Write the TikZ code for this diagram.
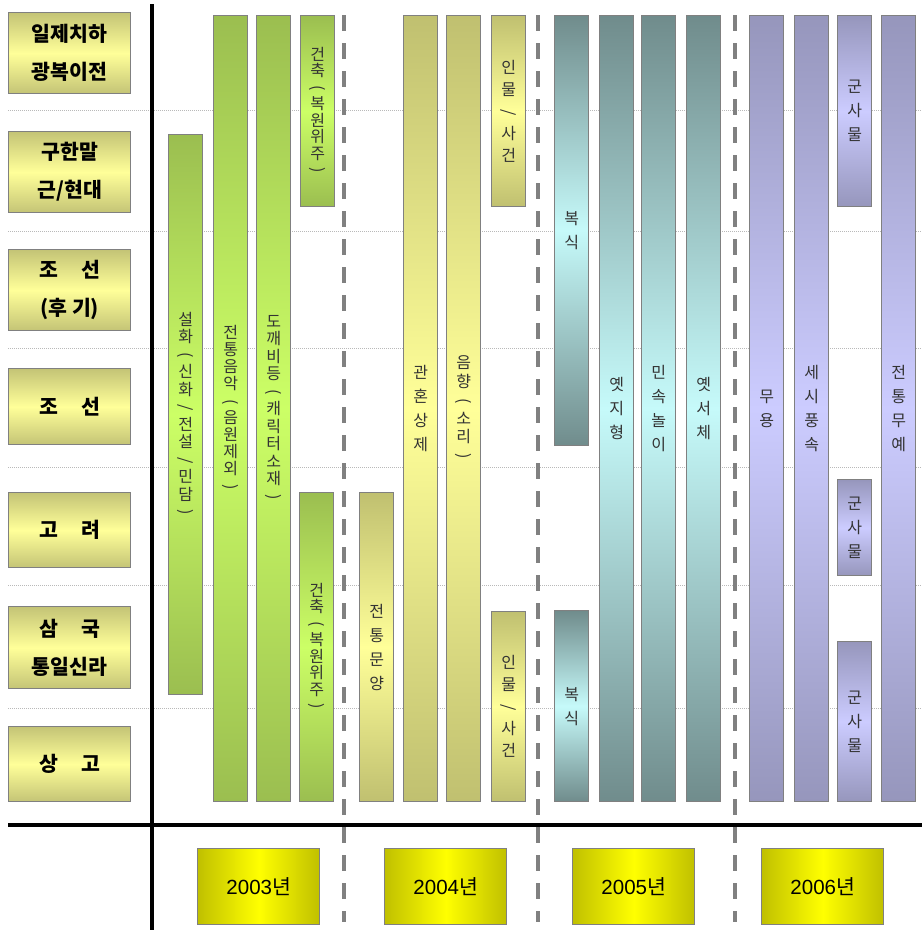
\documentclass[tikz,border=0pt]{standalone}
\usepackage{fontspec}
\newfontfamily\kr{Noto Sans CJK KR}
\newfontfamily\ar{Liberation Sans}
\definecolor{lbldark}{RGB}{196,196,118}
\definecolor{lbllight}{RGB}{255,255,153}
\definecolor{gdark}{RGB}{155,190,80}
\definecolor{glight}{RGB}{204,255,102}
\definecolor{odark}{RGB}{192,192,112}
\definecolor{olight}{RGB}{255,255,153}
\definecolor{tdark}{RGB}{112,140,140}
\definecolor{tlight}{RGB}{198,250,250}
\definecolor{pdark}{RGB}{150,150,188}
\definecolor{plight}{RGB}{204,204,255}
\definecolor{ydark}{RGB}{192,192,0}
\definecolor{edge}{RGB}{128,128,128}
\newcommand\vp[1]{\rotatebox[origin=c]{-90}{#1}}
\tikzset{
  box/.style={draw=edge, line width=1.4pt, anchor=north west, inner sep=0pt, align=center},
  lbl/.style={box, top color=lbldark, bottom color=lbldark, middle color=lbllight,
    minimum width=122pt, font=\kr\bfseries\fontsize{20.5}{38}\selectfont},
  yr/.style={box, left color=ydark, right color=ydark, middle color=yellow,
    minimum width=122pt, minimum height=76pt, font=\fontsize{20.5}{24}\selectfont},
  bar/.style={box, minimum width=34pt, font=\kr\fontsize{16}{24}\selectfont, text=black!80},
  gbar/.style={bar, top color=gdark, bottom color=gdark, middle color=glight},
  obar/.style={bar, top color=odark, bottom color=odark, middle color=olight},
  tbar/.style={bar, top color=tdark, bottom color=tdark, middle color=tlight},
  pbar/.style={bar, top color=pdark, bottom color=pdark, middle color=plight},
  dotln/.style={draw=gray!55, line width=0.8pt, dash pattern=on 1pt off 1pt},
  dashln/.style={draw=edge, line width=4.2pt, dash pattern=on 16pt off 12pt},
  axisln/.style={draw=black, line width=4pt},
}
\begin{document}
\begin{tikzpicture}[x=1pt,y=-1pt]
\useasboundingbox (0,0) rectangle (922,930);
% dotted row separators
\foreach \yy [count=\i] in {110,231,348,467,585,708}{
  \coordinate (s\i l) at (8,\yy);
  \coordinate (s\i r) at (922,\yy);
  \draw[dotln] (s\i l) -- (s\i r);
}
% axes
\coordinate (vt) at (152,4);
\coordinate (vb) at (152,930);
\coordinate (hl) at (8,825);
\coordinate (hr) at (922,825);
\draw[axisln] (vt) -- (vb);
\draw[axisln] (hl) -- (hr);
% dashed separators
\foreach \xx [count=\i] in {344,538,735}{
  \coordinate (d\i t) at (\xx,15);
  \coordinate (d\i b) at (\xx,922);
  \draw[dashln] (d\i t) -- (d\i b);
}
% row labels
\node[lbl, minimum height=81pt] (L1) at (8,12) {일제치하\\광복이전};
\node[lbl, minimum height=81pt] (L2) at (8,131) {구한말\\근/현대};
\node[lbl, minimum height=81pt] (L3) at (8,249) {조\hspace{23pt}선\\(후 기)};
\node[lbl, minimum height=76pt] (L4) at (8,368) {조\hspace{23pt}선};
\node[lbl, minimum height=75pt] (L5) at (8,492) {고\hspace{23pt}려};
\node[lbl, minimum height=82pt] (L6) at (8,606) {삼\hspace{23pt}국\\통일신라};
\node[lbl, minimum height=75pt] (L7) at (8,726) {상\hspace{23pt}고};
% 2003
\node[gbar, minimum height=560pt, font=\kr\fontsize{16}{17.5}\selectfont] (g1) at (168,134)
  {설\\화\\\vp(\\신\\화\\\vp/\\전\\설\\\vp/\\민\\담\\\vp)};
\node[gbar, minimum height=786pt, font=\kr\fontsize{16}{17}\selectfont] (g2) at (213,15)
  {전\\통\\음\\악\\\vp(\\음\\원\\제\\외\\\vp)};
\node[gbar, minimum height=786pt, font=\kr\fontsize{16}{17.5}\selectfont] (g3) at (256,15)
  {도\\깨\\비\\등\\\vp(\\캐\\릭\\터\\소\\재\\\vp)};
\node[gbar, minimum height=191pt, font=\kr\fontsize{16}{16.5}\selectfont] (g4) at (300,15)
  {건\\축\\\vp(\\복\\원\\위\\주\\\vp)};
\node[gbar, minimum height=309pt, font=\kr\fontsize{16}{16.5}\selectfont] (g5) at (299,492)
  {건\\축\\\vp(\\복\\원\\위\\주\\\vp)};
% 2004
\node[obar, minimum height=309pt] (o1) at (359,492) {전\\통\\문\\양};
\node[obar, minimum height=786pt] (o2) at (403,15) {관\\혼\\상\\제};
\node[obar, minimum height=786pt, font=\kr\fontsize{16}{18.5}\selectfont] (o3) at (446,15)
  {음\\향\\\vp(\\소\\리\\\vp)};
\node[obar, minimum height=191pt, font=\kr\fontsize{16}{22}\selectfont] (o4) at (491,15)
  {인\\물\\\vp/\\사\\건};
\node[obar, minimum height=190pt, font=\kr\fontsize{16}{22}\selectfont] (o5) at (491,611)
  {인\\물\\\vp/\\사\\건};
% 2005
\node[tbar, minimum height=430pt] (t1) at (554,15) {복\\식};
\node[tbar, minimum height=786pt] (t2) at (599,15) {옛\\지\\형};
\node[tbar, minimum height=786pt] (t3) at (641,15) {민\\속\\놀\\이};
\node[tbar, minimum height=786pt] (t4) at (686,15) {옛\\서\\체};
\node[tbar, minimum height=191pt] (t5) at (554,610) {복\\식};
% 2006
\node[pbar, minimum height=786pt] (p1) at (749,15) {무\\용};
\node[pbar, minimum height=786pt] (p2) at (794,15) {세\\시\\풍\\속};
\node[pbar, minimum height=191pt] (p3) at (837,15) {군\\사\\물};
\node[pbar, minimum height=786pt] (p4) at (881,15) {전\\통\\무\\예};
\node[pbar, minimum height=96pt] (p5) at (837,479) {군\\사\\물};
\node[pbar, minimum height=160pt] (p6) at (837,641) {군\\사\\물};
% years
\node[yr] (y3) at (197,848) {\ar 2003\kr 년};
\node[yr] (y4) at (384,848) {\ar 2004\kr 년};
\node[yr] (y5) at (572,848) {\ar 2005\kr 년};
\node[yr] (y6) at (761,848) {\ar 2006\kr 년};
\end{tikzpicture}
\end{document}
